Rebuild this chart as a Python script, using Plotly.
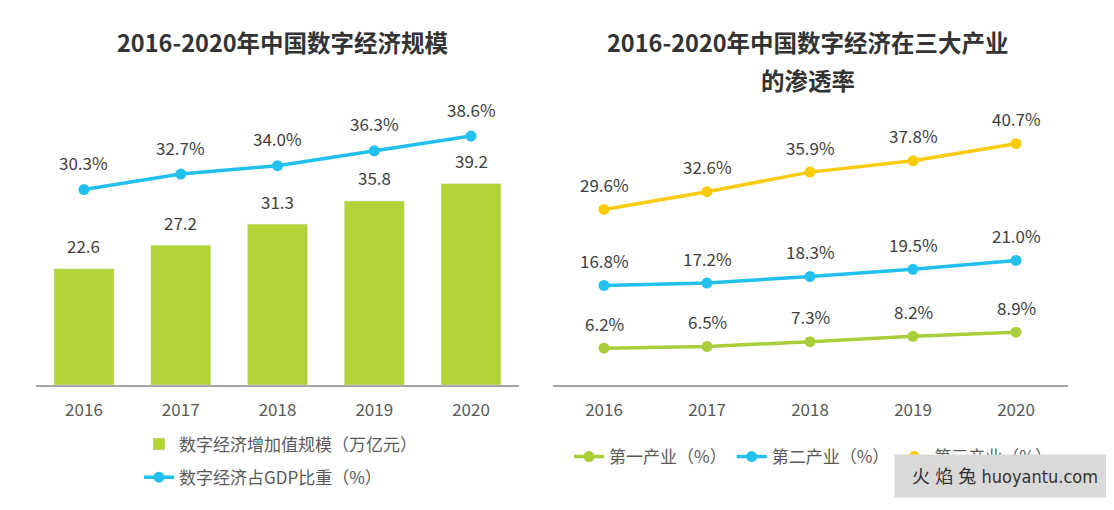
import plotly.graph_objects as go

years = ["2016", "2017", "2018", "2019", "2020"]
scale_values = [22.6, 27.2, 31.3, 35.8, 39.2]
gdp_share = [30.3, 32.7, 34.0, 36.3, 38.6]
primary = [6.2, 6.5, 7.3, 8.2, 8.9]
secondary = [16.8, 17.2, 18.3, 19.5, 21.0]
tertiary = [29.6, 32.6, 35.9, 37.8, 40.7]

GREEN_BAR = "#B3D235"
GREEN_LINE = "#A8CE3A"
BLUE = "#22C0EE"
YELLOW = "#FACB0C"
LABEL = "#404040"
TICK = "#595959"
FONT = "Noto Sans CJK SC"

OFF = 8  # page body margin
W, H = 1114 - OFF, 510 - OFF


def px(x):
    return (x - OFF) / W


def py(y):
    return 1 - (y - OFF) / H


ybot, ytop = 385, 100
dom_y = [py(ybot), py(ytop)]
ph = ybot - ytop

fig = go.Figure()

fig.add_trace(go.Bar(x=years, y=scale_values, name="数字经济增加值规模（万亿元）",
                     marker_color=GREEN_BAR, width=0.62, xaxis="x", yaxis="y",
                     legend="legend", legendgroup="a"))
fig.add_trace(go.Scatter(x=years, y=gdp_share, name="数字经济占GDP比重（%）",
                         mode="lines+markers", line=dict(color=BLUE, width=3.5),
                         marker=dict(size=11, color=BLUE), xaxis="x", yaxis="y2",
                         legend="legend", legendgroup="b"))

for name, vals, col in [("第一产业（%）", primary, GREEN_LINE),
                        ("第二产业（%）", secondary, BLUE),
                        ("第三产业（%）", tertiary, YELLOW)]:
    fig.add_trace(go.Scatter(x=years, y=vals, name=name, mode="lines+markers",
                             line=dict(color=col, width=3.5),
                             marker=dict(size=11, color=col),
                             xaxis="x2", yaxis="y3", legend="legend2"))

lab_font = dict(size=17, color=LABEL, family=FONT)
ann = []
for i, v in enumerate(scale_values):
    ann.append(dict(x=i, y=v, xref="x", yref="y", text=f"{v:.1f}", showarrow=False,
                    xanchor="center", yanchor="middle", yshift=23, font=lab_font))
for i, v in enumerate(gdp_share):
    ann.append(dict(x=i, y=v, xref="x", yref="y2", text=f"{v:.1f}%", showarrow=False,
                    xanchor="center", yanchor="middle", yshift=27, font=lab_font))
for vals in (primary, secondary, tertiary):
    for i, v in enumerate(vals):
        ann.append(dict(x=i, y=v, xref="x2", yref="y3", text=f"{v:.1f}%", showarrow=False,
                        xanchor="center", yanchor="middle", yshift=25, font=lab_font))

title_font = dict(size=23.5, color="#333333", family=FONT)
for tx, ty, t in [(283, 42, "2016-2020年中国数字经济规模"),
                  (808, 42, "2016-2020年中国数字经济在三大产业"),
                  (808, 80, "的渗透率")]:
    ann.append(dict(x=px(tx), y=py(ty), xref="paper", yref="paper", text=f"<b>{t}</b>",
                    showarrow=False, xanchor="center", yanchor="middle", font=title_font))
# watermark
ann.append(dict(x=px(1005), y=py(476), xref="paper", yref="paper",
                text="火 焰 兔 huoyantu.com", showarrow=False, bgcolor="#D9D9D9",
                xanchor="center", yanchor="middle",
                borderpad=10, width=200, height=22,
                font=dict(size=18, color="#333333", family="DejaVu Sans Condensed, " + FONT)))

xcommon = dict(type="category", range=[-0.5, 4.5], showline=True, linecolor="#A6A6A6",
               linewidth=1.5, ticks="", showgrid=False, ticklabelstandoff=9,
               tickfont=dict(size=17, color=TICK, family=FONT))
ycommon = dict(visible=False, showgrid=False, zeroline=False, fixedrange=True)

fig.update_layout(
    width=W, height=H,
    margin=dict(l=0, r=0, t=0, b=0),
    paper_bgcolor="white", plot_bgcolor="white",
    font=dict(family=FONT, color=TICK),
    xaxis=dict(domain=[px(35.6), px(519.4)], anchor="y", **xcommon),
    xaxis2=dict(domain=[px(552.5), px(1067.5)], anchor="y3", **xcommon),
    yaxis=dict(domain=dom_y, range=[0, ph / 5.14], anchor="x", **ycommon),
    yaxis2=dict(range=[0, ph / 6.45], overlaying="y", anchor="x", **ycommon),
    yaxis3=dict(domain=dom_y, range=[0, ph / 5.93], anchor="x2", **ycommon),
    legend=dict(orientation="v", x=px(139), xanchor="left", y=py(461), yanchor="middle",
                tracegroupgap=8, traceorder="grouped",
                font=dict(size=17, color=TICK, family=FONT), bgcolor="rgba(0,0,0,0)"),
    legend2=dict(orientation="h", x=px(569), xanchor="left", y=py(457), yanchor="middle",
                 font=dict(size=17, color=TICK, family=FONT), bgcolor="rgba(0,0,0,0)"),
    annotations=ann,
    showlegend=True,
)

fig.write_html("out.html")
